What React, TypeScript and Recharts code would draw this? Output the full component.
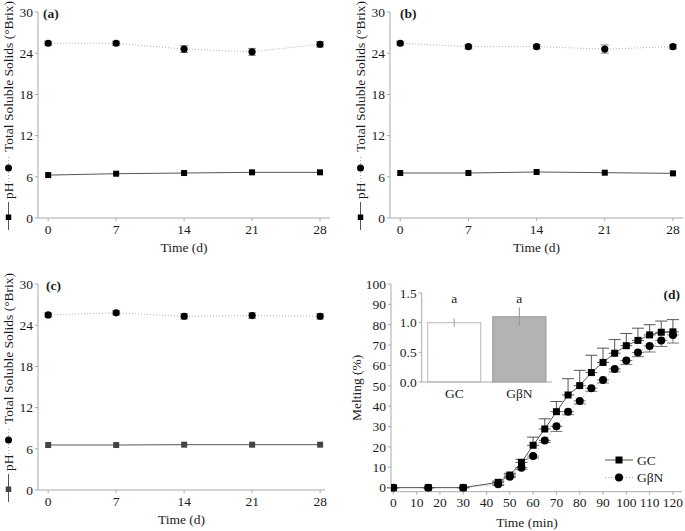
import React from 'react';
import {
  LineChart,
  Line,
  XAxis,
  YAxis,
  ErrorBar,
  Legend,
  ComposedChart,
  Bar,
  Cell,
  LabelList,
} from 'recharts';

// ---------- data ----------
const days = [0, 7, 14, 21, 28];
const dayTicks = [0, 7, 14, 21, 28];
const brixTicks = [0, 6, 12, 18, 24, 30];

const tssA = [25.45, 25.45, 24.6, 24.2, 25.3];
const tssErrA = [0.3, 0.3, 0.5, 0.5, 0.4];
const phA = [6.25, 6.45, 6.55, 6.65, 6.65];

const tssB = [25.45, 24.95, 24.95, 24.6, 24.95];
const tssErrB = [0.3, 0.3, 0.3, 0.6, 0.3];
const phB = [6.55, 6.55, 6.7, 6.6, 6.5];

const tssC = [25.5, 25.8, 25.3, 25.4, 25.3];
const tssErrC = [0.3, 0.3, 0.4, 0.4, 0.4];
const phC = [6.55, 6.55, 6.6, 6.6, 6.6];

const meltTime = [0, 15, 30, 45, 50, 55, 60, 65, 70, 75, 80, 85, 90, 95, 100, 105, 110, 115, 120];
const meltTicks = [0, 10, 20, 30, 40, 50, 60, 70, 80, 90, 100, 110, 120];
const meltYTicks = [0, 10, 20, 30, 40, 50, 60, 70, 80, 90, 100];
const meltGC = [0, 0, 0, 2.6, 6.2, 12.4, 20.8, 28.8, 37.3, 45.5, 50.1, 56.5, 61.5, 66, 69.7, 72.3, 75, 76.3, 76.5];
const meltGCErr = [0, 0, 0, 0.6, 0.8, 1.5, 4, 5, 5, 8, 7.5, 8.5, 7, 6.7, 6, 6, 5, 5.5, 6];
const meltGBN = [0, 0, 0, 1.6, 5.4, 9.8, 15.5, 23.2, 30.1, 37.3, 42.6, 48.8, 52.9, 58.3, 62.4, 66.3, 69.6, 72.3, 75];
const meltGBNErr = [0, 0, 0, 0.5, 0.5, 0.8, 1, 1, 2.5, 1.5, 1.5, 1.5, 1.5, 1.5, 2, 2, 3, 3, 4];

const insetNames = ['GC', 'GβN'];
const insetValues = [1.0, 1.1];
const insetErr = [0.07, 0.16];
const insetLetters = ['a', 'a'];
const insetTicks = [0, 0.5, 1.0, 1.5];

// ---------- style ----------
const FONT = '"Liberation Serif", "Times New Roman", serif';
const AXIS = '#a9a9a9';
const TEXT = '#1c1c1c';
const FS = 13.5;
const tickStyle = { fill: TEXT, fontSize: FS, fontFamily: FONT };

const circleDot = (r: number) => (p: any) => {
  if (p.cx == null || p.cy == null) return <g key={p.index} />;
  return <circle key={p.index} cx={p.cx} cy={p.cy} r={r} fill="#000" />;
};
const squareDot = (s: number, color: string) => (p: any) => {
  if (p.cx == null || p.cy == null) return <g key={p.index} />;
  return <rect key={p.index} x={p.cx - s / 2} y={p.cy - s / 2} width={s} height={s} fill={color} />;
};

const xTitle = (text: string, dx: number, dy: number) => (props: any) => {
  const vb = props.viewBox;
  return (
    <text
      x={vb.x + vb.width / 2 + dx}
      y={vb.y + dy}
      textAnchor="middle"
      dominantBaseline="central"
      fontSize={FS}
      fill={TEXT}
      fontFamily={FONT}
    >
      {text}
    </text>
  );
};

const brixTitle = (markerColor: string, letter: string, letterDx: number) => (props: any) => {
  const vb = props.viewBox;
  const bx = vb.x + 0.5;
  const by = vb.y + vb.height + 12;
  return (
    <g>
      <g transform={`translate(${bx},${by}) rotate(-90)`}>
        <line x1={0} y1={0} x2={28} y2={0} stroke="#555" strokeWidth={1} />
        <rect x={10} y={-2.75} width={5.5} height={5.5} fill={markerColor} />
        <text x={31} y={0} dominantBaseline="central" fontSize={FS} fill={TEXT} fontFamily={FONT}>
          pH
        </text>
        <line x1={48} y1={0} x2={74} y2={0} stroke="#aaa" strokeDasharray="1 2" />
        <circle cx={62} cy={0} r={3.5} fill="#000" />
        <text x={78} y={0} dominantBaseline="central" fontSize={FS} fill={TEXT} fontFamily={FONT}>
          Total Soluble Solids (°Brix)
        </text>
      </g>
      <text
        x={vb.x + vb.width + letterDx}
        y={vb.y + 1}
        dominantBaseline="central"
        fontSize={FS}
        fontWeight="bold"
        fill={TEXT}
        fontFamily={FONT}
      >
        {letter}
      </text>
    </g>
  );
};

type PanelProps = {
  tss: number[];
  tssErr: number[];
  ph: number[];
  phColor: string;
  letter: string;
  letterDx: number;
  width: number;
  height: number;
  margin: { top: number; right: number; bottom: number; left: number };
  xMax: number;
  left: number;
  top: number;
};

function StoragePanel(p: PanelProps) {
  const data = days.map((d, i) => ({ day: d, tss: p.tss[i], tssErr: p.tssErr[i], ph: p.ph[i] }));
  return (
    <div style={{ position: 'absolute', left: p.left, top: p.top }}>
      <LineChart width={p.width} height={p.height} data={data} margin={p.margin}>
        <XAxis
          dataKey="day"
          type="number"
          domain={[-1.05, p.xMax]}
          ticks={dayTicks}
          allowDataOverflow
          stroke={AXIS}
          tick={tickStyle}
          tickSize={3}
          tickMargin={3}
          height={30}
          label={xTitle('Time (d)', 0, 29)}
        />
        <YAxis
          type="number"
          domain={[0, 30]}
          ticks={brixTicks}
          allowDataOverflow
          stroke={AXIS}
          width={30}
          tickSize={3}
          tickMargin={2}
          tick={tickStyle}
          label={brixTitle(p.phColor, p.letter, p.letterDx)}
        />
        <Line
          dataKey="tss"
          type="linear"
          stroke="#b0b0b0"
          strokeWidth={1}
          strokeDasharray="1 2"
          dot={circleDot(3.6)}
          isAnimationActive={false}
        >
          <ErrorBar dataKey="tssErr" width={4} stroke="#888" strokeWidth={1} />
        </Line>
        <Line
          dataKey="ph"
          type="linear"
          stroke="#555"
          strokeWidth={1}
          dot={squareDot(6, p.phColor)}
          isAnimationActive={false}
        />
      </LineChart>
    </div>
  );
}

const meltLegend = () => (
  <svg width={80} height={36} style={{ display: 'block', overflow: 'visible' }}>
    <line x1={0} y1={8} x2={28} y2={8} stroke="#555" />
    <rect x={10.5} y={4.5} width={7} height={7} fill="#000" />
    <text x={32} y={8} dominantBaseline="central" fontSize={FS} fill={TEXT} fontFamily={FONT}>
      GC
    </text>
    <line x1={0} y1={25.5} x2={28} y2={25.5} stroke="#aaa" strokeDasharray="1 2" />
    <circle cx={14} cy={25.5} r={4} fill="#000" />
    <text x={32} y={25.5} dominantBaseline="central" fontSize={FS} fill={TEXT} fontFamily={FONT}>
      GβN
    </text>
  </svg>
);

const meltYTitle = (props: any) => {
  const vb = props.viewBox;
  const cx = vb.x + 6;
  const cy = vb.y + vb.height / 2;
  return (
    <text
      x={cx}
      y={cy}
      transform={`rotate(-90, ${cx}, ${cy})`}
      textAnchor="middle"
      dominantBaseline="central"
      fontSize={FS}
      fill={TEXT}
      fontFamily={FONT}
    >
      Melting (%)
    </text>
  );
};

const meltXTitle = (props: any) => {
  const vb = props.viewBox;
  return (
    <g>
      <text
        x={vb.x + vb.width / 2 - 9.5}
        y={vb.y + 31}
        textAnchor="middle"
        dominantBaseline="central"
        fontSize={FS}
        fill={TEXT}
        fontFamily={FONT}
      >
        Time (min)
      </text>
      <text
        x={vb.x + vb.width - 2}
        y={vb.y - 197}
        textAnchor="end"
        dominantBaseline="central"
        fontSize={FS}
        fontWeight="bold"
        fill={TEXT}
        fontFamily={FONT}
      >
        (d)
      </text>
    </g>
  );
};

function MeltPanel() {
  const data = meltTime.map((t, i) => ({
    t,
    gc: meltGC[i],
    gcErr: [0, meltGCErr[i]],
    gbn: meltGBN[i],
    gbnErr: [meltGBNErr[i], 0],
  }));
  return (
    <div style={{ position: 'absolute', left: 340, top: 265 }}>
      <LineChart width={345} height={266} data={data} margin={{ top: 19, right: 3, bottom: 9.3, left: 11 }}>
        <XAxis
          dataKey="t"
          type="number"
          domain={[-1, 123.9]}
          ticks={meltTicks}
          allowDataOverflow
          stroke={AXIS}
          tick={tickStyle}
          tickSize={3}
          tickMargin={3}
          height={30}
          interval={0}
          label={meltXTitle}
        />
        <YAxis
          type="number"
          domain={[-2, 100]}
          ticks={meltYTicks}
          allowDataOverflow
          stroke={AXIS}
          width={40}
          tickSize={3}
          tickMargin={2}
          tick={tickStyle}
          interval={0}
          label={meltYTitle}
        />
        <Line
          dataKey="gbn"
          type="linear"
          stroke="#aaa"
          strokeWidth={1}
          strokeDasharray="1 2"
          dot={circleDot(4)}
          isAnimationActive={false}
        >
          <ErrorBar dataKey="gbnErr" width={6} stroke="#777" strokeWidth={1} />
        </Line>
        <Line
          dataKey="gc"
          type="linear"
          stroke="#555"
          strokeWidth={1}
          dot={squareDot(7, '#000')}
          isAnimationActive={false}
        >
          <ErrorBar dataKey="gcErr" width={6} stroke="#555" strokeWidth={1} />
        </Line>
        <Legend
          layout="horizontal"
          verticalAlign="middle"
          align="center"
          content={meltLegend}
          wrapperStyle={{ position: 'absolute', left: 265, top: 187, width: 80, height: 36 }}
        />
      </LineChart>
    </div>
  );
}

const insetLetter = (props: any) => {
  const { x, y, width, height, value } = props;
  return (
    <text
      x={x + width / 2}
      y={y + height - 84}
      textAnchor="middle"
      dominantBaseline="central"
      fontSize={FS}
      fill={TEXT}
      fontFamily={FONT}
    >
      {value}
    </text>
  );
};

function Inset() {
  const data = insetNames.map((n, i) => ({ name: n, value: insetValues[i], err: insetErr[i], letter: insetLetters[i] }));
  const fills = ['#ffffff', '#b3b3b3'];
  const strokes = ['#c4c4c4', '#999999'];
  return (
    <div style={{ position: 'absolute', left: 390, top: 280 }}>
      <ComposedChart
        width={170}
        height={125}
        data={data}
        margin={{ top: 13, right: 8, bottom: 3, left: 3.7 }}
        barCategoryGap={6}
      >
        <XAxis
          dataKey="name"
          stroke={AXIS}
          tickLine={false}
          tickSize={4}
          tickMargin={2}
          height={20}
          tick={tickStyle}
          interval={0}
        />
        <YAxis
          type="number"
          domain={[0, 1.5]}
          ticks={insetTicks}
          tickFormatter={(v: number) => v.toFixed(1)}
          stroke={AXIS}
          width={28}
          tickSize={3}
          tickMargin={2}
          tick={tickStyle}
          interval={0}
        />
        <Bar dataKey="value" isAnimationActive={false} strokeWidth={1.2}>
          {data.map((d, i) => (
            <Cell key={d.name} fill={fills[i]} stroke={strokes[i]} />
          ))}
          <ErrorBar dataKey="err" width={0} stroke="#999" strokeWidth={1} />
          <LabelList dataKey="letter" content={insetLetter} />
        </Bar>
      </ComposedChart>
    </div>
  );
}

export default function App() {
  return (
    <div
      style={{
        position: 'absolute',
        left: 0,
        top: 0,
        width: 685,
        height: 531,
        background: '#fff',
        fontFamily: FONT,
        overflow: 'hidden',
      }}
    >
      <StoragePanel
        tss={tssA}
        tssErr={tssErrA}
        ph={phA}
        phColor="#000"
        letter="(a)"
        letterDx={5}
        width={340}
        height={265}
        margin={{ top: 12, right: 10, bottom: 17, left: 8 }}
        xMax={29.03}
        left={0}
        top={0}
      />
      <StoragePanel
        tss={tssB}
        tssErr={tssErrB}
        ph={phB}
        phColor="#000"
        letter="(b)"
        letterDx={10}
        width={345}
        height={265}
        margin={{ top: 12, right: 2, bottom: 17, left: 20 }}
        xMax={29.03}
        left={340}
        top={0}
      />
      <StoragePanel
        tss={tssC}
        tssErr={tssErrC}
        ph={phC}
        phColor="#444"
        letter="(c)"
        letterDx={8}
        width={340}
        height={266}
        margin={{ top: 19, right: 15, bottom: 11, left: 8 }}
        xMax={28.5}
        left={0}
        top={265}
      />
      <MeltPanel />
      <Inset />
    </div>
  );
}
